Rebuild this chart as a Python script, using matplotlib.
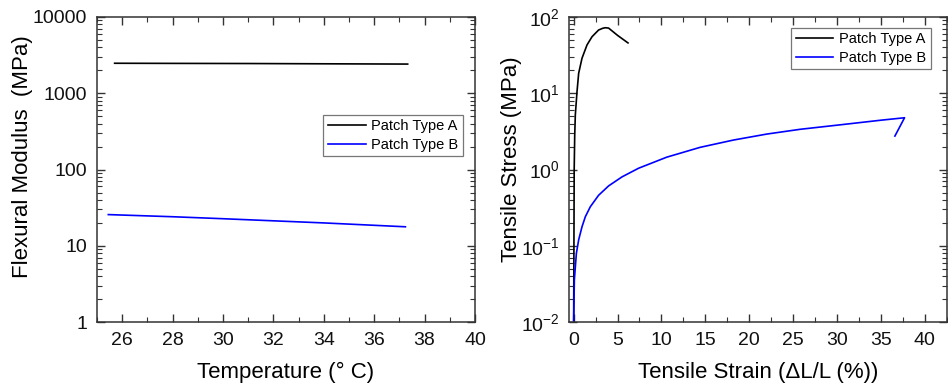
import matplotlib
matplotlib.use("Agg")
import matplotlib.pyplot as plt
from matplotlib.ticker import FixedLocator, LogLocator, FuncFormatter, MultipleLocator, NullFormatter

plt.rcParams['font.family'] = ['Liberation Sans', 'DejaVu Sans']
plt.rcParams['mathtext.fontset'] = 'custom'
plt.rcParams['mathtext.rm'] = 'Liberation Sans'

# Left panel: flexural modulus vs temperature
temp_a = [25.7, 28.0, 31.0, 34.0, 37.33]
mod_a = [2460, 2450, 2440, 2420, 2400]
temp_b = [25.45, 28.0, 30.0, 34.0, 37.24]
mod_b = [25.7, 24.1, 22.7, 20.0, 17.8]

# Right panel: tensile stress vs strain
strain_a = [0.0, 0.03, 0.06, 0.12, 0.19, 0.38, 0.57, 0.95, 1.52, 2.09, 2.84, 3.3, 3.6, 3.98, 5.0, 6.19]
stress_a = [0.01, 0.1, 1.0, 2.8, 5.2, 10.4, 18.2, 28.6, 42.7, 54.7, 67.0, 70.5, 71.8, 71.0, 57.0, 45.4]
strain_b = [0.0, 0.08, 0.31, 0.57, 0.95, 1.33, 1.9, 2.84, 3.98, 5.5, 7.4, 10.6, 14.4,
            18.2, 22.0, 25.8, 30.4, 35.0, 37.7, 36.6]
stress_b = [0.01, 0.036, 0.080, 0.12, 0.178, 0.241, 0.326, 0.46, 0.61, 0.80, 1.04, 1.45, 1.95,
            2.43, 2.91, 3.36, 3.85, 4.42, 4.76, 2.74]

labels = ['Patch Type A', 'Patch Type B']
left_yticks = [1, 10, 100, 1000, 10000]

fig = plt.figure(figsize=(9.48, 3.88), dpi=100)
ax1 = fig.add_axes([0.1023, 0.1693, 0.3987, 0.7876])
ax2 = fig.add_axes([0.6005, 0.1693, 0.3981, 0.7876])

c_a = '#000000'
c_b = '#0000ff'
lw = 1.2

ax1.plot(temp_a, mod_a, color=c_a, lw=lw, label=labels[0])
ax1.plot(temp_b, mod_b, color=c_b, lw=lw, label=labels[1])
ax1.set_yscale('log')
ax1.set_xlim(25, 40)
ax1.set_ylim(1, 10000)
ax1.xaxis.set_major_locator(FixedLocator([26, 28, 30, 32, 34, 36, 38, 40]))
ax1.xaxis.set_minor_locator(MultipleLocator(1))
ax1.yaxis.set_major_locator(FixedLocator(left_yticks))
ax1.yaxis.set_major_formatter(FuncFormatter(lambda v, p: '%d' % round(v)))
ax1.yaxis.set_minor_locator(LogLocator(base=10, subs=range(2, 10), numticks=20))
ax1.yaxis.set_minor_formatter(NullFormatter())
ax1.set_xlabel('Temperature (° C)', fontsize=16, labelpad=9)
ax1.set_ylabel('Flexural Modulus  (MPa)', fontsize=16)
ax1.yaxis.set_label_coords(-0.169, 0.541)
leg1 = ax1.legend(loc='upper right', bbox_to_anchor=(0.968, 0.678), fontsize=10.5,
                  frameon=True, fancybox=False, edgecolor='#777777', framealpha=1,
                  handlelength=2.6, borderpad=0.3, labelspacing=0.3, handletextpad=0.4,
                  borderaxespad=0)
leg1.get_frame().set_linewidth(0.9)

ax2.plot(strain_a, stress_a, color=c_a, lw=lw, label=labels[0])
ax2.plot(strain_b, stress_b, color=c_b, lw=lw, label=labels[1])
ax2.set_yscale('log')
ax2.set_xlim(-0.5, 42.5)
ax2.set_ylim(0.01, 100)
ax2.xaxis.set_major_locator(FixedLocator([0, 5, 10, 15, 20, 25, 30, 35, 40]))
ax2.xaxis.set_minor_locator(MultipleLocator(2.5))
ax2.yaxis.set_major_locator(LogLocator(base=10, numticks=10))
ax2.yaxis.set_minor_locator(LogLocator(base=10, subs=range(2, 10), numticks=20))
ax2.yaxis.set_minor_formatter(NullFormatter())
ax2.set_xlabel('Tensile Strain (ΔL/L (%))', fontsize=16, labelpad=9)
ax2.set_ylabel('Tensile Stress (MPa)', fontsize=16)
ax2.yaxis.set_label_coords(-0.125, 0.534)
leg2 = ax2.legend(loc='upper right', bbox_to_anchor=(0.958, 0.963), fontsize=10.5,
                  frameon=True, fancybox=False, edgecolor='#777777', framealpha=1,
                  handlelength=2.6, borderpad=0.3, labelspacing=0.3, handletextpad=0.4,
                  borderaxespad=0)
leg2.get_frame().set_linewidth(0.9)

for ax in (ax1, ax2):
    for s in ax.spines.values():
        s.set_linewidth(1.1)
        s.set_color('#333333')
    ax.tick_params(which='both', direction='in', top=True, right=True, colors='#333333',
                   labelcolor='#111111')
    ax.tick_params(which='major', length=6, width=1.0, labelsize=14, pad=7)
    ax.tick_params(which='minor', length=3.5, width=0.8)

fig.savefig('out.png', dpi=100)
